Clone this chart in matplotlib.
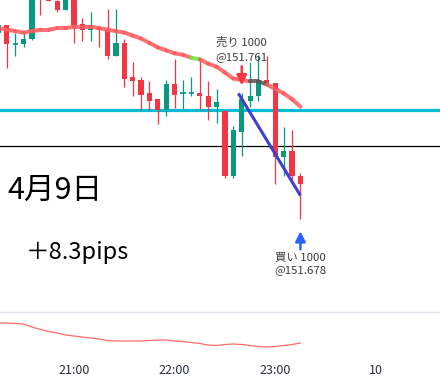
import matplotlib
matplotlib.use("Agg")
import matplotlib.pyplot as plt
from matplotlib.collections import LineCollection
from matplotlib.transforms import offset_copy

plt.rcParams['font.family'] = ['Noto Sans CJK JP', 'DejaVu Sans']

# ---------------- data ----------------
times = ["20:15", "20:20", "20:25", "20:30", "20:35", "20:40", "20:45", "20:50", "20:55",
         "21:00", "21:05", "21:10", "21:15", "21:20", "21:25", "21:30", "21:35", "21:40",
         "21:45", "21:50", "21:55", "22:00", "22:05", "22:10", "22:15", "22:20", "22:25",
         "22:30", "22:35", "22:40", "22:45", "22:50", "22:55", "23:00", "23:05", "23:10",
         "23:15"]
opens = [151.804, 151.809, 151.796, 151.796, 151.800, 151.843, 151.833, 151.825, 151.819,
         151.828, 151.810, 151.806, 151.808, 151.806, 151.788, 151.797, 151.774, 151.772,
         151.763, 151.759, 151.752, 151.769, 151.763, 151.763, 151.763, 151.761, 151.754,
         151.751, 151.707, 151.737, 151.758, 151.761, 151.772, 151.770, 151.720, 151.724,
         151.707]
highs = [151.810, 151.809, 151.804, 151.805, 151.842, 151.845, 151.836, 151.826, 151.832,
         151.830, 151.814, 151.818, 151.808, 151.820, 151.820, 151.800, 151.784, 151.774,
         151.771, 151.759, 151.772, 151.786, 151.772, 151.774, 151.786, 151.771, 151.766,
         151.751, 151.741, 151.763, 151.784, 151.789, 151.788, 151.770, 151.740, 151.738,
         151.709]
lows = [151.802, 151.780, 151.788, 151.794, 151.799, 151.816, 151.825, 151.818, 151.819,
        151.797, 151.798, 151.798, 151.794, 151.786, 151.788, 151.767, 151.761, 151.752,
        151.752, 151.742, 151.748, 151.753, 151.752, 151.761, 151.752, 151.745, 151.743,
        151.706, 151.706, 151.721, 151.754, 151.758, 151.769, 151.702, 151.707, 151.702,
        151.678]
closes = [151.809, 151.796, 151.796, 151.800, 151.840, 151.829, 151.825, 151.819, 151.829,
          151.809, 151.806, 151.808, 151.806, 151.788, 151.797, 151.773, 151.771, 151.762,
          151.758, 151.752, 151.769, 151.762, 151.763, 151.763, 151.761, 151.754, 151.757,
          151.707, 151.738, 151.759, 151.761, 151.772, 151.769, 151.720, 151.724, 151.707,
          151.702]
ma_values = [151.807, 151.806, 151.805, 151.804, 151.805, 151.806, 151.806, 151.807, 151.807,
             151.808, 151.808, 151.808, 151.807, 151.806, 151.805, 151.804, 151.802, 151.800,
             151.797, 151.794, 151.792, 151.790, 151.789, 151.787, 151.786, 151.783, 151.781,
             151.777, 151.773, 151.772, 151.771, 151.771, 151.769, 151.766, 151.763, 151.759,
             151.754]
# colour state of each MA segment (between consecutive bars)
ma_state = ["down"] * 23 + ["up"] + ["down"] * 6 + ["flat", "flat"] + ["down"] * 4
osc_values = [62, 62, 61, 60, 54, 49, 45, 42, 38, 36, 34, 32, 30, 27, 26, 26, 26, 26, 27,
              28, 28, 26, 25, 23, 21, 18, 17, 19, 20, 19, 17, 15, 14, 15, 17, 19, 22]

support_level = 151.752
ref_level = 151.7275
trend_times = ["22:38", "23:15"]
trend_prices = [151.763, 151.694]

sell_time, sell_price, sell_qty = "22:40", 151.761, 1000
buy_time, buy_price, buy_qty = "23:15", 151.678, 1000

tick_times = ["21:00", "22:00", "23:00", "24:00"]
tick_labels = ["21:00", "22:00", "23:00", "10"]

date_label = "4月9日"
result_label = "＋8.3pips"

# ---------------- helpers ----------------
def to_min(s):
    h, m = s.split(":")
    return (int(h) - 21) * 60 + int(m)

t = [to_min(s) for s in times]
n = len(t)

UP = "#089981"
DN = "#F23645"

fig = plt.figure(figsize=(4.40, 3.82), dpi=100)
fig.patch.set_facecolor("white")

ax = fig.add_axes([0, 70 / 382, 1, 312 / 382])
ax.set_xlim(-44.1, 218.2)
ax.set_ylim(151.6154, 151.826)
ax.axis("off")

# horizontal lines
ax.axhline(support_level, color="#00BCD4", lw=2.3, zorder=1)
ax.axhline(ref_level, color="black", lw=0.9, zorder=1)

# candles
bw = 3.1
for i in range(n):
    o, h, l, c = opens[i], highs[i], lows[i], closes[i]
    col = UP if c >= o else DN
    ax.vlines(t[i], l, h, color=col, lw=0.9, zorder=3)
    if abs(c - o) < 1e-9:
        ax.hlines(o, t[i] - bw / 2, t[i] + bw / 2, color=col, lw=1.3, zorder=3)
    else:
        ax.bar(t[i], abs(c - o), bottom=min(o, c), width=bw, color=col,
               edgecolor=col, lw=0, zorder=3)

# moving average with coloured segments
state_col = {"down": "#FF5A5F", "up": "#66EE3A", "flat": "#555555"}
segs = [[(t[i], ma_values[i]), (t[i + 1], ma_values[i + 1])] for i in range(n - 1)]
lc = LineCollection(segs, colors=[state_col[s] for s in ma_state], linewidths=2.9,
                    alpha=0.85, capstyle="round", zorder=4)
ax.add_collection(lc)

# trend line
ax.plot([to_min(s) for s in trend_times], trend_prices, color="#3F3FD0", lw=2.2,
        solid_capstyle="butt", zorder=5)

# trade markers
def off(dy):
    return offset_copy(ax.transData, fig=fig, x=0, y=dy, units="dots")

ts = to_min(sell_time)
hs = highs[times.index(sell_time)]
ax.annotate("", xy=(ts, hs), xycoords=off(8), xytext=(ts, hs), textcoords=off(27),
            arrowprops=dict(arrowstyle="-|>,head_length=0.6,head_width=0.3",
                            color=DN, lw=1.8, mutation_scale=10, shrinkA=0, shrinkB=0),
            zorder=6)
ax.text(ts, hs, f"@{sell_price:.3f}", transform=off(36), ha="center", va="center",
        fontsize=8.2, color="#3b3b3b", zorder=6)
ax.text(ts, hs, f"売り {sell_qty}", transform=off(51), ha="center", va="center",
        fontsize=8.2, color="#3b3b3b", zorder=6)

tb = to_min(buy_time)
lb = lows[times.index(buy_time)]
ax.annotate("", xy=(tb, lb), xycoords=off(-12), xytext=(tb, lb), textcoords=off(-30),
            arrowprops=dict(arrowstyle="-|>,head_length=0.6,head_width=0.3",
                            color="#2962FF", lw=1.8, mutation_scale=10, shrinkA=0, shrinkB=0),
            zorder=6)
ax.text(tb, lb, f"買い {buy_qty}", transform=off(-38), ha="center", va="center",
        fontsize=8.2, color="#3b3b3b", zorder=6)
ax.text(tb, lb, f"@{buy_price:.3f}", transform=off(-51), ha="center", va="center",
        fontsize=8.2, color="#3b3b3b", zorder=6)

# big labels
fig.text(7 / 440, 1 - 190 / 382, date_label, ha="left", va="center", fontsize=22,
         color="black")
fig.text(26 / 440, 1 - 252 / 382, result_label, ha="left", va="center", fontsize=17,
         color="black")

# indicator pane
ax2 = fig.add_axes([0, 28 / 382, 1, 42 / 382])
ax2.set_xlim(-44.1, 218.2)
ax2.set_ylim(0, 84)
ax2.plot(t, osc_values, color="#FF6B6B", lw=0.9)
for s in ["left", "right", "bottom"]:
    ax2.spines[s].set_visible(False)
ax2.spines["top"].set_color("#E0E3EB")
ax2.spines["top"].set_linewidth(1.0)
ax2.set_yticks([])
ax2.set_xticks([to_min(s) for s in tick_times])
ax2.set_xticklabels(tick_labels, fontsize=9, color="#2A2E39")
ax2.tick_params(axis="x", length=0, pad=7)

fig.savefig("out.png", dpi=100, facecolor="white")
